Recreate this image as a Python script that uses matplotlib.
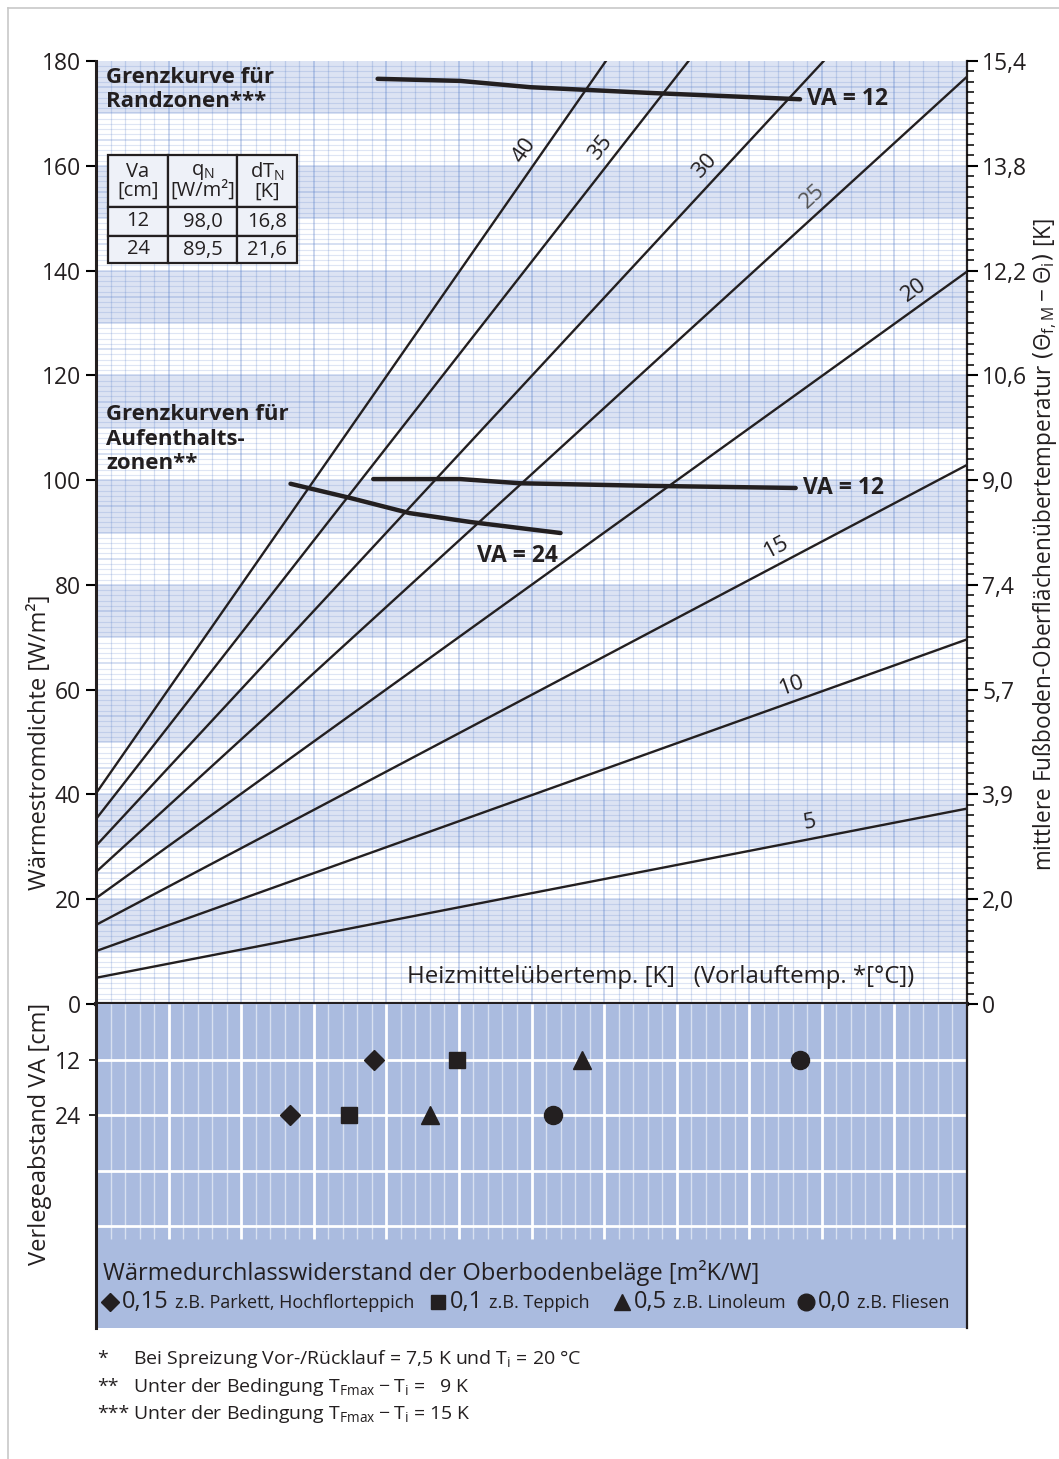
import numpy as np
import matplotlib
matplotlib.use('Agg')
import matplotlib.pyplot as plt
from matplotlib.lines import Line2D

W, H = 1059, 1459

# lines of constant ... (label, value at x=0, value at x=60)
line_labels = ['5', '10', '15', '20', '25', '30', '35', '40']
line_start = [5.0, 10.1, 15.1, 20.2, 25.2, 30.2, 35.3, 40.2]
line_end = [37.3, 69.6, 102.9, 139.8, 177.0, 209.5, 248.0, 279.0]
label_x = [49.4, 48.3, 47.4, 57.0, 50.1, 42.75, 35.6, 30.4]

# Grenzkurven
rand12_x = [19.4, 25.1, 29.9, 38.2, 48.5]
rand12_y = [176.6, 176.2, 175.0, 173.9, 172.7]
auf12_x = [19.1, 25.1, 29.2, 38.2, 48.2]
auf12_y = [100.2, 100.2, 99.4, 98.9, 98.5]
auf24_x = [13.4, 17.5, 21.6, 25.8, 32.0]
auf24_y = [99.3, 96.6, 93.7, 92.0, 89.9]

# bottom panel markers (Verlegeabstand 12 / 24)
belag_val = ['0,15', '0,1', '0,5', '0,0']
belag_txt = ['z.B. Parkett, Hochflorteppich', 'z.B. Teppich', 'z.B. Linoleum', 'z.B. Fliesen']
belag_mk = ['D', 's', '^', 'o']
belag_ms = [10, 11, 13, 13]
va12_x = [19.15, 24.87, 33.48, 48.5]
va24_x = [13.36, 17.43, 23.0, 31.48]

left_ticks = list(range(0, 181, 20))
right_labels = ['0', '2,0', '3,9', '5,7', '7,4', '9,0', '10,6', '12,2', '13,8', '15,4']

tab_head = ['Va\n[cm]', 'q$_\\mathregular{N}$\n[W/m²]', 'dT$_\\mathregular{N}$\n[K]']
tab_rows = [['12', '98,0', '16,8'], ['24', '89,5', '21,6']]

footnotes = [('*', 'Bei Spreizung Vor-/Rücklauf = 7,5 K und $\\mathregular{T_i}$ = 20 °C'),
             ('**', 'Unter der Bedingung $\\mathregular{T_{Fmax} - T_i}$ =   9 K'),
             ('***', 'Unter der Bedingung $\\mathregular{T_{Fmax} - T_i}$ = 15 K')]

INK = '#231F20'


def fx(px):
    return px / W


def fy(py):
    return 1 - py / H


def main() -> None:
    plt.rcParams['font.family'] = ['Open Sans', 'DejaVu Sans']
    plt.rcParams['mathtext.fontset'] = 'dejavusans'
    fig = plt.figure(figsize=(W / 100, H / 100), dpi=100)

    ax = fig.add_axes([fx(96), fy(1004), fx(967) - fx(96), fy(61) - fy(1004)])
    ax.set_xlim(0, 60)
    ax.set_ylim(0, 180)

    # background bands and grid
    for y0 in range(10, 180, 20):
        ax.axhspan(y0, y0 + 10, color='#DCE3F3', lw=0, zorder=0)
    for xv in range(1, 60):
        major = xv % 5 == 0
        ax.axvline(xv, color='#4A72C4', alpha=0.30 if major else 0.22,
                   lw=1.3 if major else 0.9, zorder=1)
    for yv in range(1, 180):
        major = yv % 5 == 0
        ax.axhline(yv, color='#4A72C4', alpha=0.28 if major else 0.18,
                   lw=1.1 if major else 0.8, zorder=1)

    xs = np.array([0, 60])
    for lab, s, e, lx in zip(line_labels, line_start, line_end, label_x):
        ys = np.array([s, e])
        ax.plot(xs, ys, color=INK, lw=1.7, zorder=3, solid_capstyle='butt')
        p0 = ax.transData.transform((0, s))
        p1 = ax.transData.transform((60, e))
        ang = np.degrees(np.arctan2(p1[1] - p0[1], p1[0] - p0[0]))
        ly = s + (e - s) * lx / 60
        off = 16 * 0.72
        ax.annotate(lab, (lx, ly), xytext=(-np.sin(np.radians(ang)) * off, np.cos(np.radians(ang)) * off),
                    textcoords='offset points', rotation=ang, rotation_mode='anchor',
                    ha='center', va='center', fontsize=16,
                    color='#555555' if lab == '25' else INK, zorder=4)

    for gx, gy in [(rand12_x, rand12_y), (auf12_x, auf12_y), (auf24_x, auf24_y)]:
        ax.plot(gx, gy, color=INK, lw=3.2, zorder=5, solid_capstyle='round')
    ax.text(rand12_x[-1] + 0.5, rand12_y[-1], 'VA = 12', fontsize=16.5, fontweight='bold',
            va='center', ha='left', color=INK, zorder=6)
    ax.text(auf12_x[-1] + 0.5, auf12_y[-1], 'VA = 12', fontsize=16.5, fontweight='bold',
            va='center', ha='left', color=INK, zorder=6)
    ax.text(auf24_x[-1] - 0.2, auf24_y[-1] - 2.0, 'VA = 24', fontsize=16.5, fontweight='bold',
            va='top', ha='right', color=INK, zorder=6)

    ax.text(0.012, 0.994, 'Grenzkurve für\nRandzonen***', transform=ax.transAxes, fontsize=16,
            fontweight='bold', va='top', ha='left', linespacing=1.22, color=INK, zorder=6)
    ax.text(0.012, 0.636, 'Grenzkurven für\nAufenthalts-\nzonen**', transform=ax.transAxes,
            fontsize=16, fontweight='bold', va='top', ha='left', linespacing=1.22,
            color=INK, zorder=6)
    ax.text(0.94, 0.029, 'Heizmittelübertemp. [K]   (Vorlauftemp. *[°C])', transform=ax.transAxes,
            fontsize=17.3, va='center', ha='right', color=INK, zorder=6)

    # table
    x0 = (108 - 96) / 871
    y0 = (1004 - 263) / 943
    tw = (297 - 108) / 871
    th = (263 - 155) / 943
    tab = ax.table(cellText=[tab_head] + tab_rows, cellLoc='center',
                   colWidths=[60, 69, 60], bbox=[x0, y0, tw, th], zorder=7)
    tab.auto_set_font_size(False)
    for (r, c), cell in tab.get_celld().items():
        cell.set_facecolor('#EEF1F8')
        cell.set_edgecolor(INK)
        cell.set_linewidth(1.6)
        cell.set_height([52, 29, 27][r])
        cell.get_text().set_fontsize(14.5)
        cell.get_text().set_color(INK)
        cell.get_text().set_linespacing(0.9)

    ax.set_yticks(left_ticks)
    ax.set_yticklabels([str(t) for t in left_ticks], fontsize=16.5, color=INK)
    ax.set_xticks([])
    ax.tick_params(axis='y', direction='out', length=7, width=1.5, pad=4)
    ax.spines['top'].set_visible(False)
    ax.spines['left'].set_linewidth(2.2)
    ax.spines['bottom'].set_linewidth(3)
    ax.spines['right'].set_linewidth(1.6)
    for sp in ax.spines.values():
        sp.set_color(INK)
        sp.set_zorder(8)
    ax.set_ylabel('Wärmestromdichte [W/m²]', fontsize=17, color=INK)
    ax.yaxis.set_label_coords(-0.051, 0.278)

    axr = ax.twinx()
    axr.set_ylim(0, 180)
    axr.set_yticks(left_ticks)
    axr.set_yticklabels(right_labels, fontsize=16.5, color=INK)
    axr.set_yticks(np.arange(0, 181, 2), minor=True)
    axr.tick_params(axis='y', which='major', direction='out', length=8, width=1.5, pad=3)
    axr.tick_params(axis='y', which='minor', direction='out', length=5, width=1.1)
    for sp in axr.spines.values():
        sp.set_visible(False)
    axr.set_ylabel('mittlere Fußboden-Oberflächenübertemperatur '
                   '$(\\mathregular{\\Theta_{f,M} - \\Theta_i})$ [K]',
                   fontsize=16.3, color=INK)
    axr.yaxis.set_label_coords(1.0735, 0.487)

    # bottom panel
    bx = fig.add_axes([fx(96), fy(1328), fx(967) - fx(96), fy(1004) - fy(1328)])
    bx.set_xlim(0, 60)
    bx.set_ylim(70, 0)
    bx.set_facecolor('#AABBDF')
    for xv in range(1, 60):
        major = xv % 5 == 0
        bx.plot([xv, xv], [0, 50.8], color='white', alpha=1 if major else 0.55,
                lw=2 if major else 1, zorder=1, solid_capstyle='butt')
    for yv in [12, 24, 36, 48]:
        bx.axhline(yv, color='white', lw=2, zorder=1)
    for i in range(4):
        bx.plot(va12_x[i], 12, marker=belag_mk[i], ms=belag_ms[i], color=INK, zorder=5, ls='none')
        bx.plot(va24_x[i], 24, marker=belag_mk[i], ms=belag_ms[i], color=INK, zorder=5, ls='none')
    bx.set_yticks([12, 24])
    bx.set_yticklabels(['12', '24'], fontsize=16.5, color=INK)
    bx.set_xticks([])
    bx.tick_params(axis='y', direction='out', length=5, width=1.2, pad=6)
    bx.spines['top'].set_visible(False)
    bx.spines['bottom'].set_visible(False)
    bx.spines['left'].set_linewidth(2.2)
    bx.spines['right'].set_linewidth(1.6)
    for sp in bx.spines.values():
        sp.set_color(INK)
    bx.set_ylabel('Verlegeabstand VA [cm]', fontsize=17, color=INK)
    bx.yaxis.set_label_coords(-0.051, 0.60)

    fig.text(fx(103), fy(1273), 'Wärmedurchlasswiderstand der Oberbodenbeläge [m²K/W]',
             fontsize=17, va='center', ha='left', color=INK)
    mk_px = [110, 438, 622, 806]
    for i in range(4):
        fig.add_artist(Line2D([fx(mk_px[i])], [fy(1302)], marker=belag_mk[i],
                              ms=belag_ms[i] - 1, color=INK, ls='none'))
        t = fig.text(fx(mk_px[i] + 12), fy(1302), belag_val[i], fontsize=17,
                     va='center', ha='left', color=INK)
        fig.canvas.draw()
        bb = t.get_window_extent()
        fig.text((bb.x1 + 6) / W, fy(1303), belag_txt[i], fontsize=13,
                 va='center', ha='left', color=INK)

    for k, (star, txt) in enumerate(footnotes):
        yy = fy(1359 + 27.5 * k)
        fig.text(fx(97), yy, star, fontsize=14, va='center', ha='left', color=INK)
        fig.text(fx(133), yy, txt, fontsize=14, va='center', ha='left', color=INK)

    # frame of the page
    fig.add_artist(Line2D([fx(8), fx(8)], [fy(8), 0], color='#C8C8C8', lw=1.2))
    fig.add_artist(Line2D([fx(8), 1], [fy(8), fy(8)], color='#C8C8C8', lw=1.2))

    fig.savefig('out.png', dpi=100)


if __name__ == '__main__':
    main()
